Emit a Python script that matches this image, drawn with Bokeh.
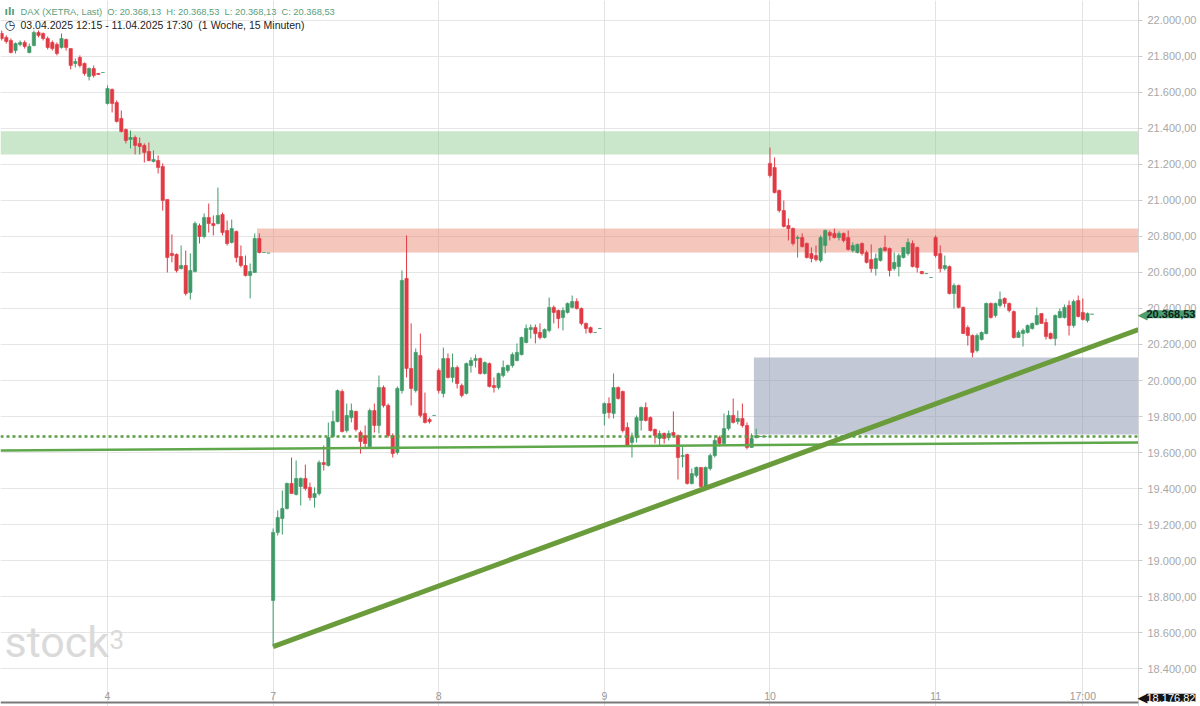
import numpy as np
import pandas as pd
from bokeh.plotting import figure
from bokeh.models import (ColumnDataSource, Range1d, FixedTicker, CustomJSTickFormatter,
                          Label, BoxAnnotation, Span)
from bokeh.embed import file_html
from bokeh.resources import INLINE

# ---------------- data ----------------
day_names = ["3", "4", "7", "8", "9", "10", "11"]
slots_per_day = 36          # 15-minute slots per trading day
first_slot_day3 = 13        # 03.04. starts at 12:15
tick_17h_slot = 32          # 17:00 on the last day

# (open, high, low, close) per 15-minute bar
day03 = [
    (21928, 21944, 21889, 21900), (21906, 21917, 21872, 21883), (21889, 21900, 21817, 21822),
    (21833, 21878, 21817, 21872), (21867, 21889, 21856, 21878), (21878, 21889, 21844, 21856),
    (21822, 21872, 21817, 21856), (21861, 21944, 21856, 21933), (21933, 21944, 21906, 21917),
    (21928, 21933, 21889, 21900), (21900, 21911, 21839, 21850), (21878, 21889, 21833, 21844),
    (21867, 21878, 21806, 21817), (21850, 21928, 21844, 21900), (21894, 21900, 21833, 21850),
    (21844, 21844, 21728, 21750), (21761, 21789, 21739, 21772), (21794, 21806, 21739, 21750),
    (21761, 21767, 21694, 21706), (21689, 21739, 21667, 21733), (21733, 21750, 21683, 21694),
    (21706, 21708, 21698, 21700), (21711, 21711, 21711, 21711),
]
day04 = [
    (21539, 21639, 21533, 21622), (21617, 21622, 21489, 21539), (21544, 21556, 21433, 21439),
    (21456, 21500, 21378, 21383), (21394, 21400, 21317, 21333), (21339, 21389, 21289, 21350),
    (21350, 21361, 21256, 21306), (21317, 21350, 21256, 21300), (21306, 21317, 21211, 21267),
    (21272, 21322, 21217, 21222), (21217, 21278, 21211, 21228), (21222, 21250, 21150, 21183),
    (21189, 21206, 20944, 21000), (21006, 21006, 20600, 20683), (20706, 20811, 20656, 20694),
    (20700, 20706, 20600, 20611), (20622, 20750, 20617, 20639), (20639, 20722, 20472, 20483),
    (20489, 20706, 20450, 20611), (20606, 20883, 20600, 20872), (20861, 20872, 20761, 20800),
    (20800, 20928, 20789, 20906), (20906, 20983, 20822, 20872), (20872, 20917, 20806, 20861),
    (20872, 21072, 20867, 20917), (20922, 20933, 20806, 20822), (20833, 20889, 20750, 20761),
    (20767, 20894, 20761, 20844), (20828, 20833, 20656, 20683), (20689, 20750, 20628, 20639),
    (20639, 20694, 20578, 20583), (20583, 20650, 20456, 20606), (20600, 20817, 20600, 20789),
    (20789, 20817, 20706, 20711), (20711, 20711, 20711, 20711), (20708, 20708, 20708, 20708),
]
day07 = [
    (18778, 19178, 18522, 19156), (19156, 19278, 19139, 19239), (19233, 19389, 19144, 19289),
    (19289, 19433, 19283, 19428), (19428, 19572, 19372, 19372), (19367, 19556, 19361, 19456),
    (19411, 19461, 19306, 19456), (19456, 19533, 19389, 19400), (19406, 19433, 19333, 19350),
    (19350, 19406, 19294, 19372), (19372, 19556, 19361, 19544), (19544, 19639, 19500, 19533),
    (19528, 19767, 19522, 19683), (19689, 19833, 19683, 19772), (19772, 19950, 19767, 19944),
    (19939, 19950, 19711, 19717), (19722, 19872, 19711, 19806), (19794, 19872, 19767, 19833),
    (19828, 19833, 19717, 19728), (19711, 19722, 19594, 19661), (19694, 19750, 19628, 19650),
    (19633, 19844, 19622, 19833), (19833, 19872, 19711, 19750), (19750, 20028, 19706, 19961),
    (19961, 19972, 19850, 19861), (19861, 19872, 19683, 19694), (19694, 19706, 19572, 19594),
    (19600, 19967, 19589, 19956), (19944, 20611, 19928, 20556), (20567, 20806, 20017, 20067),
    (20067, 20317, 19861, 19956), (19944, 20178, 19933, 20156), (20139, 20261, 19794, 19806),
    (19817, 19933, 19761, 19767), (19783, 19794, 19761, 19772), (19806, 19806, 19806, 19806),
]
day08 = [
    (20056, 20067, 19928, 19944), (19928, 20183, 19906, 20122), (20122, 20150, 20011, 20017),
    (20017, 20150, 19989, 20072), (20072, 20083, 19956, 19983), (19972, 19983, 19906, 19917),
    (19928, 20100, 19922, 20094), (20083, 20128, 20044, 20111), (20111, 20144, 20072, 20122),
    (20122, 20128, 20033, 20039), (20039, 20106, 20033, 20100), (20094, 20100, 19961, 19967),
    (19972, 20017, 19933, 19961), (19961, 20044, 19950, 20039), (20028, 20111, 20017, 20072),
    (20056, 20089, 20044, 20083), (20083, 20156, 20072, 20144), (20111, 20206, 20106, 20156),
    (20144, 20244, 20139, 20239), (20211, 20311, 20206, 20289), (20283, 20311, 20233, 20294),
    (20294, 20311, 20206, 20261), (20267, 20317, 20228, 20239), (20239, 20289, 20233, 20283),
    (20278, 20461, 20267, 20406), (20406, 20417, 20317, 20378), (20389, 20394, 20289, 20344),
    (20350, 20406, 20278, 20389), (20378, 20433, 20372, 20428), (20406, 20472, 20400, 20439),
    (20439, 20456, 20394, 20400), (20400, 20406, 20306, 20317), (20317, 20322, 20261, 20289),
    (20294, 20300, 20261, 20267), (20267, 20267, 20267, 20267), (20289, 20289, 20289, 20289),
]
day09 = [
    (19817, 19878, 19750, 19872), (19872, 19906, 19789, 19822), (19817, 20039, 19789, 19961),
    (19961, 19967, 19894, 19900), (19939, 19944, 19711, 19722), (19739, 19767, 19633, 19639),
    (19656, 19711, 19572, 19683), (19683, 19806, 19656, 19794), (19778, 19856, 19722, 19850),
    (19850, 19878, 19772, 19778), (19794, 19800, 19717, 19722), (19728, 19733, 19650, 19694),
    (19678, 19722, 19639, 19706), (19706, 19711, 19650, 19678), (19683, 19722, 19667, 19706),
    (19711, 19828, 19689, 19694), (19694, 19700, 19450, 19572), (19578, 19639, 19517, 19583),
    (19589, 19594, 19422, 19428), (19428, 19511, 19422, 19483), (19472, 19522, 19461, 19517),
    (19517, 19517, 19400, 19411), (19406, 19522, 19400, 19517), (19511, 19594, 19500, 19583),
    (19583, 19694, 19572, 19667), (19683, 19694, 19633, 19650), (19650, 19817, 19639, 19733),
    (19733, 19833, 19722, 19806), (19806, 19900, 19761, 19767), (19772, 19833, 19756, 19789),
    (19789, 19872, 19739, 19750), (19750, 19767, 19617, 19628), (19628, 19706, 19628, 19678),
    (19683, 19733, 19678, 19694), (19689, 19689, 19689, 19689), (19689, 19689, 19689, 19689),
]
day10 = [
    (21206, 21294, 21128, 21139), (21183, 21239, 21039, 21044), (21056, 21061, 20933, 20944),
    (20944, 21000, 20850, 20856), (20861, 20900, 20778, 20844), (20844, 20850, 20750, 20761),
    (20789, 20806, 20683, 20794), (20794, 20817, 20739, 20744), (20761, 20767, 20678, 20683),
    (20706, 20739, 20656, 20678), (20694, 20750, 20661, 20672), (20667, 20806, 20656, 20794),
    (20750, 20839, 20706, 20833), (20822, 20833, 20778, 20806), (20817, 20844, 20789, 20794),
    (20794, 20828, 20778, 20817), (20817, 20822, 20767, 20778), (20794, 20833, 20722, 20728),
    (20722, 20767, 20711, 20750), (20711, 20761, 20706, 20756), (20761, 20767, 20694, 20706),
    (20711, 20722, 20650, 20656), (20672, 20756, 20600, 20622), (20622, 20706, 20583, 20678),
    (20667, 20739, 20661, 20733), (20739, 20806, 20717, 20722), (20733, 20739, 20578, 20611),
    (20622, 20711, 20611, 20656), (20633, 20706, 20578, 20694), (20683, 20739, 20678, 20739),
    (20706, 20789, 20694, 20767), (20761, 20778, 20628, 20633), (20739, 20744, 20600, 20628),
    (20606, 20608, 20590, 20594), (20594, 20594, 20594, 20594), (20572, 20572, 20572, 20572),
]
day11 = [
    (20794, 20806, 20683, 20694), (20706, 20750, 20600, 20622), (20622, 20694, 20611, 20639),
    (20633, 20639, 20478, 20483), (20483, 20539, 20400, 20528), (20528, 20533, 20400, 20406),
    (20406, 20411, 20261, 20261), (20294, 20306, 20194, 20250), (20250, 20256, 20128, 20156),
    (20167, 20261, 20156, 20250), (20228, 20272, 20222, 20267), (20261, 20433, 20256, 20428),
    (20428, 20433, 20344, 20350), (20361, 20433, 20350, 20428), (20417, 20494, 20406, 20450),
    (20456, 20461, 20406, 20428), (20428, 20433, 20378, 20389), (20383, 20389, 20233, 20239),
    (20239, 20278, 20239, 20267), (20261, 20289, 20189, 20278), (20267, 20311, 20261, 20306),
    (20289, 20322, 20283, 20317), (20311, 20406, 20306, 20361), (20372, 20372, 20317, 20317),
    (20322, 20344, 20228, 20244), (20261, 20267, 20228, 20233), (20233, 20367, 20194, 20361),
    (20350, 20400, 20344, 20383), (20350, 20422, 20344, 20406), (20417, 20444, 20250, 20306),
    (20306, 20450, 20294, 20439), (20444, 20472, 20350, 20356), (20378, 20456, 20333, 20339),
    (20333, 20378, 20322, 20372), (20368.13, 20368.53, 20368.13, 20368.53),
]
all_days = [day03, day04, day07, day08, day09, day10, day11]

# zones (price bands) and drawn lines
green_zone = (21255, 21385)
red_zone = (20711, 20844)           # starts at 04.04. 17:15
red_zone_start = ("4", 33)
blue_zone = (19700, 20128)          # starts at 09.04. 17:15
blue_zone_start = ("9", 33)
dotted_level = 19689
support_vals = (19611, 19656)       # nearly flat support, left edge -> right edge
trend_vals = (18522, 20283)         # 07.04. 09:00 low -> right edge
last_price = 20368.53
scale_low = 18176.82
y_ticks = list(range(18400, 22001, 200))

header_1 = "DAX (XETRA, Last)\u00a0 O: 20.368,13\u00a0 H: 20.368,53\u00a0 L: 20.368,13\u00a0 C: 20.368,53"
header_2 = "03.04.2025 12:15 - 11.04.2025 17:30\u00a0 (1 Woche, 15 Minuten)"

# ---------------- build ----------------
def slot_index(day, slot):
    return day_names.index(day) * slots_per_day + slot - first_slot_day3

rows = []
for pos, bars in enumerate(all_days):
    start = first_slot_day3 if pos == 0 else 0
    for k, (o, h, l, c) in enumerate(bars):
        rows.append(dict(x=slot_index(day_names[pos], start + k), open=o, high=h, low=l, close=c))
df = pd.DataFrame(rows)
df["up"] = df["close"] >= df["open"]
UP, DOWN = "#3f9a68", "#e03a44"
df["color"] = np.where(df["up"], UP, DOWN)
df["top"] = df[["open", "close"]].max(axis=1)
df["bottom"] = df[["open", "close"]].min(axis=1)
src = ColumnDataSource(df)

FRAME_W, FRAME_H = 1138, 706
x_start, x_end = -0.26, 247.1
p = figure(frame_width=FRAME_W, frame_height=FRAME_H, output_backend="svg", toolbar_location=None,
           x_range=Range1d(x_start, x_end), y_range=Range1d(18189, 22111),
           y_axis_location="right", min_border_left=0, min_border_top=0,
           min_border_right=62, min_border_bottom=0,
           background_fill_color="white", border_fill_color="white", outline_line_color=None)

# grid
p.ygrid.ticker = FixedTicker(ticks=y_ticks)
p.ygrid.grid_line_color = "#e6e6e6"
day_ticks = [slot_index(d, 0) for d in day_names[1:]]
t17 = slot_index("11", tick_17h_slot)
x_ticks = day_ticks + [t17]
x_tick_labels = day_names[1:] + ["17:00"]
p.xgrid.ticker = FixedTicker(ticks=x_ticks)
p.xgrid.grid_line_color = "#e3e3e3"
p.xaxis.visible = False

# zones
p.add_layout(BoxAnnotation(bottom=green_zone[0], top=green_zone[1], fill_color="#8cc98c",
                           fill_alpha=0.45, line_color=None, level="underlay"))
p.add_layout(BoxAnnotation(left=slot_index(*red_zone_start) - 0.5, bottom=red_zone[0], top=red_zone[1],
                           fill_color="#e8806a", fill_alpha=0.45, line_color=None, level="underlay"))
p.add_layout(BoxAnnotation(left=slot_index(*blue_zone_start) - 0.5, bottom=blue_zone[0], top=blue_zone[1],
                           fill_color="#8891b0", fill_alpha=0.5, line_color=None, level="underlay"))

# watermark
p.add_layout(Label(x=4, y=40, x_units="screen", y_units="screen", text="stock",
                   text_font="Roboto", text_font_size="43px", text_color="#dadada",
                   level="underlay"))
p.add_layout(Label(x=109, y=58, x_units="screen", y_units="screen", text="3",
                   text_font="Roboto", text_font_size="26px", text_color="#dadada",
                   level="underlay"))

# candles
p.segment(x0="x", y0="high", x1="x", y1="low", color="color", line_width=1, source=src)
p.vbar(x="x", width=0.72, top="top", bottom="bottom", fill_color="color",
       line_color="color", line_width=0.6, source=src)

# support / trend lines
p.add_layout(Span(location=dotted_level, dimension="width", line_color="#5b9e45",
                  line_width=2.5, line_dash="3 3"))
p.line(x=[x_start, x_end], y=list(support_vals), line_color="#5ea84b", line_width=2.5)
p.line(x=[slot_index("7", 0), x_end], y=list(trend_vals), line_color="#6a9c3c", line_width=5)

# time axis: labels inside the frame above a grey bar
for t, name in zip(x_ticks, x_tick_labels):
    p.add_layout(Label(x=t, y=11, x_units="data", y_units="screen", text=name,
                       text_font="Liberation Sans", text_font_size="10.5px", text_color="#9a9a9a",
                       text_align="center", text_baseline="middle"))
p.add_layout(BoxAnnotation(bottom=3, top=5, bottom_units="screen", top_units="screen",
                           fill_color="#7a7a7a", fill_alpha=1.0, line_color=None))

# price axis
ax = p.yaxis[0]
ax.ticker = FixedTicker(ticks=y_ticks)
ax.formatter = CustomJSTickFormatter(code="""
const s = tick.toFixed(2).split('.');
return s[0].replace(/\\B(?=(\\d{3})+(?!\\d))/g, '.') + ',' + s[1];
""")
ax.major_label_text_color = "#a8a8a8"
ax.major_label_text_font = "Liberation Sans"
ax.major_label_text_font_size = "11px"
ax.axis_line_color = "#d6d6d6"
ax.major_tick_line_color = "#cccccc"
ax.major_tick_in = 0
ax.major_tick_out = 4
ax.minor_tick_line_color = None
ax.major_label_standoff = 5

# header
p.add_layout(Label(x=4, y=695, x_units="screen", y_units="screen", text="ılı",
                   text_font="DejaVu Sans", text_font_size="10px", text_font_style="bold",
                   text_color="#5aa07c", text_baseline="middle"))
p.add_layout(Label(x=20, y=695, x_units="screen", y_units="screen", text=header_1,
                   text_font="Liberation Sans", text_font_size="9.3px",
                   text_color="#5aa07c", text_baseline="middle"))
p.add_layout(Label(x=4, y=682, x_units="screen", y_units="screen", text="◷",
                   text_font="DejaVu Sans", text_font_size="12px",
                   text_color="#222222", text_baseline="middle"))
p.add_layout(Label(x=20, y=682, x_units="screen", y_units="screen", text=header_2,
                   text_font="Liberation Sans", text_font_size="10.5px",
                   text_color="#222222", text_baseline="middle"))

def de_fmt(v):
    s = f"{v:,.2f}"
    return s.replace(",", "X").replace(".", ",").replace("X", ".")

# last price tag and scale low tag, drawn in the price-axis panel (outside the frame)
tags = [(last_price, "#4a9e72", "#102218", "bold", 0),
        (scale_low, "#151515", "white", "normal", 11)]
for val, bg, fg, weight, lift in tags:
    p.add_layout(Label(x=1137, y=val, x_units="canvas", y_units="data", y_offset=lift, text="◀",
                       text_font="DejaVu Sans", text_font_size="13px", text_color=bg,
                       text_baseline="middle"), "right")
    p.add_layout(Label(x=1146, y=val, x_units="canvas", y_units="data", y_offset=lift,
                       text=de_fmt(val), text_font="Liberation Sans", text_font_size="11px",
                       text_font_style=weight, text_color=fg, text_baseline="middle",
                       background_fill_color=bg, background_fill_alpha=1.0), "right")

open("out.html", "w").write(file_html(p, INLINE))
